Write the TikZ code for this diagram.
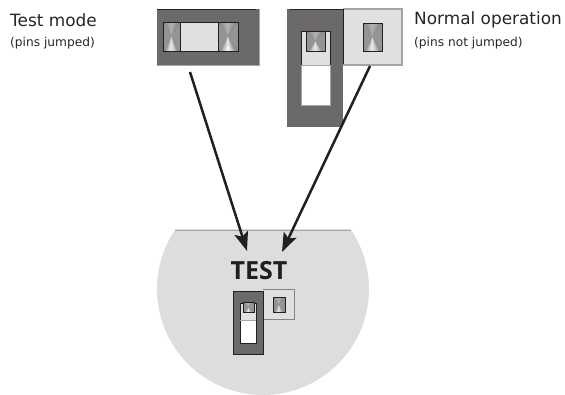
\documentclass[tikz,border=0pt]{standalone}
\usepackage{fontspec}
\setmainfont{DejaVu Sans}
\newfontfamily\testfont{Open Sans}
\definecolor{dk}{RGB}{108,106,104}
\definecolor{lt}{RGB}{224,224,222}
\definecolor{disc}{RGB}{221,221,220}
\definecolor{ln}{RGB}{35,31,32}
\definecolor{rim}{RGB}{165,165,163}
\usetikzlibrary{arrows.meta}
\tikzset{
  win/.style={draw=ln,line width=1pt},
  arrowline/.style={draw=ln,line width=2.5pt,-{Stealth[length=19pt,width=14pt,inset=4pt]}},
  lab/.style={anchor=base west,inner sep=0pt,font=\fontsize{16.9}{18}\selectfont,text=black!85},
  sublab/.style={anchor=base west,inner sep=0pt,font=\fontsize{12.2}{14}\selectfont,text=black!85},
}
\newcommand{\pinfan}[4]{% x0,y0,x1,y1
  \begin{scope}
    \clip (#1,#2) rectangle (#3,#4);
    \fill[gray!70] (#1,#2) rectangle (#3,#4);
    \foreach \i in {0,...,15}{
      \pgfmathsetmacro{\ta}{\i/16}
      \pgfmathsetmacro{\tb}{(\i+1.15)/16}
      \pgfmathsetmacro{\tm}{(\i+.5)/16}
      \pgfmathsetmacro{\d}{abs(2*\tm-1)}
      \pgfmathtruncatemacro{\gb}{100-50*\d}
      \pgfmathtruncatemacro{\gt}{72-20*\d}
      \fill[white!\gt!black] ({#1+(#3-#1)*0.5},{#2+(#4-#2)*0.45}) -- ({#1+(#3-#1)*\ta},{#2-.5}) -- ({#1+(#3-#1)*\tb},{#2-.5}) -- cycle;
      \fill[white!\gb!black] ({#1+(#3-#1)*0.5},{#2+(#4-#2)*0.45}) -- ({#1+(#3-#1)*\ta},{#4+.5}) -- ({#1+(#3-#1)*\tb},{#4+.5}) -- cycle;
    }
    \fill[white!58!black] (#1,{#2-.5}) -- ({#1+(#3-#1)*0.5},{#2+(#4-#2)*0.45}) -- (#1,{#4+.5}) -- cycle;
    \fill[white!58!black] (#3,{#2-.5}) -- ({#1+(#3-#1)*0.5},{#2+(#4-#2)*0.45}) -- (#3,{#4+.5}) -- cycle;
  \end{scope}
  \draw[win] (#1,#2) rectangle (#3,#4);
}
\begin{document}
\begin{tikzpicture}[x=1pt,y=-1pt]
\useasboundingbox (0,0) rectangle (565,395);
% labels
\node[lab] (t1) at (10,27) {Test mode};
\node[sublab] (t2) at (10,47) {(pins jumped)};
\node[lab] (t3) at (414,25) {Normal operation};
\node[sublab] (t4) at (414,47) {(pins not jumped)};
% left jumper
\fill[dk] (157,9) rectangle (259,66);
\draw[rim,line width=1pt] (157,65.5) -- (259,65.5) -- (259,9);
\draw[ln,line width=.8pt] (157,9.5) -- (256,9.5);
\fill[lt] (163,23) rectangle (238,52);
\draw[win] (163,23) rectangle (238,52);
\pinfan{163}{23}{180}{52}
\pinfan{218}{23}{238}{52}
% right jumper
\fill[lt] (343,9) rectangle (402,65);
\draw[rim,line width=1.6pt] (343,9) -- (402,9) -- (402,65) -- (343,65);
\pinfan{363}{24}{382}{52}
\fill[dk] (287,9) rectangle (343,127);
\draw[ln,line width=.8pt] (290,9.5) -- (343,9.5) -- (343,64);
\fill[white] (301,32) rectangle (330,106);
\draw[rim,line width=1pt] (301,65) -- (301,106) -- (330,106) -- (330,65);
\fill[lt] (301,32) rectangle (330,65);
\draw[ln,line width=1pt] (301,65) -- (301,32) -- (330,32) -- (330,65);
\draw[rim,line width=.8pt] (301,65) -- (330,65);
\pinfan{306}{32}{325}{52}
% disc
\begin{scope}
  \clip (0,230) rectangle (565,395);
  \fill[disc] (263,289) circle[radius=106pt];
\end{scope}
\draw[rim,line width=.6pt] (175,230) -- (351,230);
\node[inner sep=0pt,font=\testfont\bfseries\fontsize{25}{28}\selectfont,text=ln] (tt) at (259,271) {TEST};
% small jumper
\fill[lt] (263,290) rectangle (294,320);
\draw[rim!80!black,line width=1pt] (263,290) -- (294,290) -- (294,320) -- (263,320);
\pinfan{273}{298}{285}{313}
\fill[dk] (233,291) rectangle (263,354);
\draw[ln,line width=.8pt] (233,291) rectangle (263,354);
\fill[white] (240,303) rectangle (256,343);
\fill[lt] (240,303) rectangle (256,320);
\draw[ln,line width=.8pt] (240,303) rectangle (256,343);
\draw[rim,line width=.6pt] (240,320) -- (256,320);
\pinfan{243}{303}{254}{313}
% arrows
\coordinate (a1s) at (190,72);
\coordinate (a1e) at (247,251);
\coordinate (a2s) at (370,66);
\coordinate (a2e) at (282,252);
\draw[arrowline] (a1s) -- (a1e);
\draw[arrowline] (a2s) -- (a2e);
\end{tikzpicture}
\end{document}
